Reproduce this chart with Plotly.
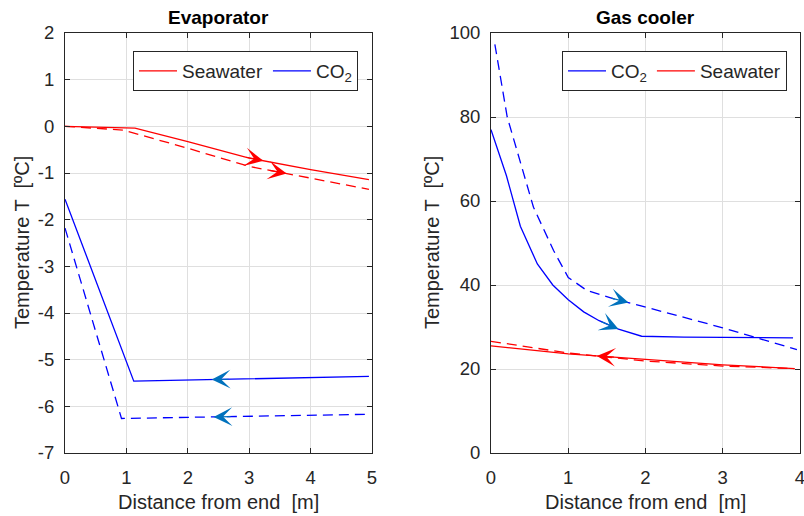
import numpy as np
import plotly.graph_objects as go

# ---------------- data ----------------
# Evaporator (left)
evap_sw_x = [0.0, 1.14, 2.0, 3.0, 4.0, 4.95]
evap_sw_y = [0.0, -0.04, -0.33, -0.68, -0.93, -1.14]
evap_sw_dash_x = [0.0, 0.95, 2.0, 3.0, 4.0, 4.95]
evap_sw_dash_y = [0.0, -0.08, -0.47, -0.86, -1.11, -1.35]
evap_co2_x = [0.0, 1.12, 4.95]
evap_co2_y = [-1.56, -5.46, -5.36]
evap_co2_dash_x = [0.0, 0.92, 4.95]
evap_co2_dash_y = [-2.18, -6.26, -6.17]

# Gas cooler (right)
gc_co2_x = [0.0, 0.2, 0.38, 0.6, 0.8, 1.0, 1.2, 1.4, 1.65, 1.95, 2.5, 3.91]
gc_co2_y = [77.0, 66.0, 54.0, 45.0, 40.0, 36.5, 33.6, 31.5, 29.5, 27.8, 27.6, 27.4]
gc_co2_dash_x = [0.05, 0.21, 0.55, 0.81, 1.0, 1.24, 1.59, 1.93, 3.0, 3.96]
gc_co2_dash_y = [97.3, 80.0, 58.5, 48.2, 41.8, 38.7, 36.7, 35.1, 29.8, 24.6]
gc_sw_x = [0.0, 1.0, 2.0, 3.0, 3.93]
gc_sw_y = [25.5, 23.6, 22.3, 21.0, 20.1]
gc_sw_dash_x = [0.0, 1.0, 2.0, 3.0, 3.93]
gc_sw_dash_y = [26.6, 23.8, 21.9, 20.7, 20.1]

# arrows: (series, head x, direction)
evap_arrows = [("sw", 3.23, 1), ("sw_dash", 3.61, 1), ("co2", 2.39, -1), ("co2_dash", 2.42, -1)]
gc_arrows = [("co2_dash", 1.78, 1), ("co2", 1.65, 1), ("sw", 1.37, -1)]

evap_xticks = [0, 1, 2, 3, 4, 5]
evap_yticks = [2, 1, 0, -1, -2, -3, -4, -5, -6, -7]
gc_xticks = [0, 1, 2, 3, 4]
gc_yticks = [0, 20, 40, 60, 80, 100]

RED = "#ff0000"
BLUE = "#0000ff"
ARROW_BLUE = "#0072BD"
AX = "#262626"
GRID = "#dfdfdf"
FONT = "Liberation Sans, Arial, sans-serif"
DASH = "10px,6px"

fig = go.Figure()

def line(x, y, color, dash, name, show, xa, ya, legend):
    fig.add_trace(go.Scatter(
        x=x, y=y, mode="lines", name=name, showlegend=show,
        line=dict(color=color, width=1.3, dash=dash),
        xaxis=xa, yaxis=ya, legend=legend, hoverinfo="skip"))

# Left
line(evap_sw_x, evap_sw_y, RED, "solid", "Seawater", True, "x", "y", "legend")
line(evap_co2_x, evap_co2_y, BLUE, "solid", "CO<sub>2</sub>", True, "x", "y", "legend")
line(evap_sw_dash_x, evap_sw_dash_y, RED, DASH, "", False, "x", "y", "legend")
line(evap_co2_dash_x, evap_co2_dash_y, BLUE, DASH, "", False, "x", "y", "legend")
# Right
line(gc_co2_x, gc_co2_y, BLUE, "solid", "CO<sub>2</sub>", True, "x2", "y2", "legend2")
line(gc_sw_x, gc_sw_y, RED, "solid", "Seawater", True, "x2", "y2", "legend2")
line(gc_co2_dash_x, gc_co2_dash_y, BLUE, DASH, "", False, "x2", "y2", "legend2")
line(gc_sw_dash_x, gc_sw_dash_y, RED, DASH, "", False, "x2", "y2", "legend2")

evap_series = {"sw": (evap_sw_x, evap_sw_y, RED), "sw_dash": (evap_sw_dash_x, evap_sw_dash_y, RED),
               "co2": (evap_co2_x, evap_co2_y, ARROW_BLUE), "co2_dash": (evap_co2_dash_x, evap_co2_dash_y, ARROW_BLUE)}
gc_series = {"sw": (gc_sw_x, gc_sw_y, RED), "sw_dash": (gc_sw_dash_x, gc_sw_dash_y, RED),
             "co2": (gc_co2_x, gc_co2_y, ARROW_BLUE), "co2_dash": (gc_co2_dash_x, gc_co2_dash_y, ARROW_BLUE)}

annotations = []

def add_arrows(arrows, series, xref, yref, dx):
    for key, xh, d in arrows:
        sx, sy, col = series[key]
        xt = xh - d * dx
        annotations.append(dict(
            x=xh, y=float(np.interp(xh, sx, sy)),
            ax=xt, ay=float(np.interp(xt, sx, sy)),
            xref=xref, yref=yref, axref=xref, ayref=yref,
            showarrow=True, arrowhead=3, arrowsize=2.6, arrowwidth=1.2,
            arrowcolor=col, text=""))

add_arrows(evap_arrows, evap_series, "x", "y", 0.3)
add_arrows(gc_arrows, gc_series, "x2", "y2", 0.24)

# titles and axis labels
def txt(x, y, s, size, bold=False, angle=0):
    annotations.append(dict(x=x, y=y, xref="paper", yref="paper", text=("<b>%s</b>" % s) if bold else s,
                            showarrow=False, textangle=angle, xanchor="center", yanchor="middle",
                            font=dict(family=FONT, size=size, color="#000000" if bold else AX)))

L0, L1 = 65 / 804, 372 / 804
R0, R1 = 491 / 804, 800 / 804
Y0, Y1 = (516 - 453) / 516, (516 - 33) / 516

txt((L0 + L1) / 2, (516 - 18) / 516, "Evaporator", 19, bold=True)
txt((R0 + R1) / 2, (516 - 18) / 516, "Gas cooler", 19, bold=True)
txt((L0 + L1) / 2, (516 - 502) / 516, "Distance from end  [m]", 20)
txt((R0 + R1) / 2, (516 - 502) / 516, "Distance from end  [m]", 20)
txt(22 / 804, (Y0 + Y1) / 2, "Temperature T  [ºC]", 20, angle=-90)
txt(432 / 804, (Y0 + Y1) / 2, "Temperature T  [ºC]", 20, angle=-90)

def axis(domain, rng, ticks, anchor, standoff):
    return dict(domain=domain, range=rng, tickvals=ticks, ticktext=[str(t) for t in ticks],
                ticks="inside", ticklen=5, tickcolor=AX, showline=True, linecolor=AX, linewidth=1,
                mirror="allticks", showgrid=True, gridcolor=GRID, gridwidth=1, zeroline=False,
                ticklabelstandoff=standoff, automargin=False, ticklabeloverflow="allow",
                tickfont=dict(family=FONT, size=18.5, color=AX), anchor=anchor, fixedrange=True)

legend_common = dict(orientation="h", bgcolor="white", bordercolor=AX, borderwidth=1,
                     font=dict(family=FONT, size=19, color=AX), xanchor="left", yanchor="top",
                     itemwidth=38, itemclick=False, itemdoubleclick=False, tracegroupgap=0)

fig.update_layout(
    width=804, height=516, margin=dict(l=0, r=0, t=0, b=0, autoexpand=False),
    paper_bgcolor="white", plot_bgcolor="white", showlegend=True,
    xaxis=axis([L0, L1], [0, 5], evap_xticks, "y", 8),
    yaxis=axis([Y0, Y1], [-7, 2], evap_yticks, "x", 6),
    xaxis2=axis([R0, R1], [0, 4], gc_xticks, "y2", 8),
    yaxis2=axis([Y0, Y1], [0, 100], gc_yticks, "x2", 6),
    legend=dict(x=133 / 804, y=(516 - 51) / 516, **legend_common),
    legend2=dict(x=562 / 804, y=(516 - 51) / 516, **legend_common),
    annotations=annotations,
)

fig.write_html("out.html")
